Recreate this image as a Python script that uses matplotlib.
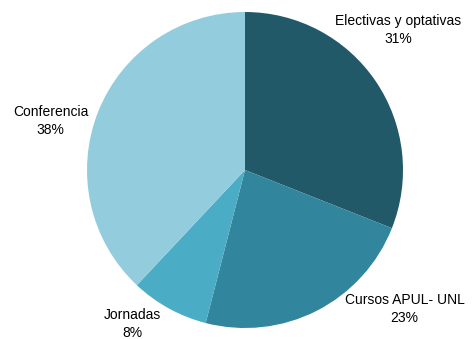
import matplotlib.pyplot as plt

plt.rcParams['font.family'] = ['Liberation Sans', 'DejaVu Sans']

# Distribución por tipo de actividad
categorias = ["Electivas y optativas", "Cursos APUL- UNL", "Jornadas", "Conferencia"]
porcentajes = [31, 23, 8, 38]
colores = ["#215968", "#31859C", "#4BACC6", "#93CDDD"]

# Posición de cada etiqueta (coordenadas del gráfico)
pos_etiquetas = [(0.97, 0.885), (1.01, -0.88), (-0.715, -0.975), (-1.23, 0.31)]

fig = plt.figure(figsize=(4.72, 3.39), dpi=100)
ax = fig.add_axes([87 / 472, 11 / 339, 316 / 472, 316 / 339])

ax.pie(porcentajes, colors=colores, startangle=90, counterclock=False,
       radius=1.0, wedgeprops=dict(linewidth=0))
ax.set_xlim(-1, 1)
ax.set_ylim(-1, 1)
ax.set_aspect("auto")

for nombre, valor, (x, y) in zip(categorias, porcentajes, pos_etiquetas):
    ax.text(x, y, f"{nombre}\n{valor}%", ha="center", va="center",
            fontsize=10, linespacing=1.4, color="#000000", clip_on=False)

fig.savefig("out.png", dpi=100)
